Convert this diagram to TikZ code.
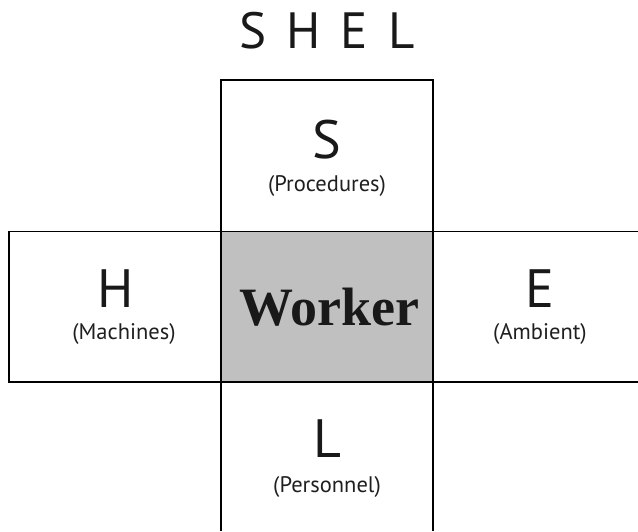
\documentclass[tikz,border=0pt]{standalone}
\usepackage{fontspec}
\setmainfont{PT Sans}
\newfontfamily\workerfont{Liberation Serif}
\definecolor{centregray}{RGB}{192,192,192}
\tikzset{
  boxline/.style={line width=1.9pt, draw=black},
  bigletter/.style={anchor=base, inner sep=0pt, font=\fontsize{54}{58}\selectfont, text=black!90},
  sublabel/.style={anchor=base, inner sep=0pt, font=\fontsize{22.5}{26}\selectfont, text=black!88},
}
\begin{document}
\begin{tikzpicture}[x=1pt,y=-1pt]
\useasboundingbox (0,0) rectangle (638,531);
\clip (0,0) rectangle (638,531);
% boxes
\fill[centregray] (221,231.5) rectangle (433,382);
\draw[boxline] (221,531) -- (221,80) -- (433,80) -- (433,531);
\draw[boxline] (640,231.5) -- (9,231.5) -- (9,382) -- (640,382);
% title
\node[anchor=base, inner sep=0pt, font=\fontsize{51}{55}\selectfont, text=black!90] (title) at (327,48) {S\hspace{20pt}H\hspace{20pt}E\hspace{20pt}L};
% S box
\node[bigletter] (s) at (327,158) {S};
\node[sublabel] (sp) at (327,191) {(Procedures)};
% H box
\node[bigletter] (h) at (116,307) {H};
\node[sublabel] (hp) at (124,339) {(Machines)};
% E box
\node[bigletter] (e) at (540,307) {E};
\node[sublabel] (ep) at (540,339) {(Ambient)};
% L box
\node[bigletter] (l) at (327,457) {L};
\node[sublabel] (lp) at (327,492) {(Personnel)};
% centre
\node[anchor=base, inner sep=0pt, font=\workerfont\bfseries\fontsize{54}{58}\selectfont, text=black!90] (worker) at (329,325) {Worker};
\end{tikzpicture}
\end{document}
